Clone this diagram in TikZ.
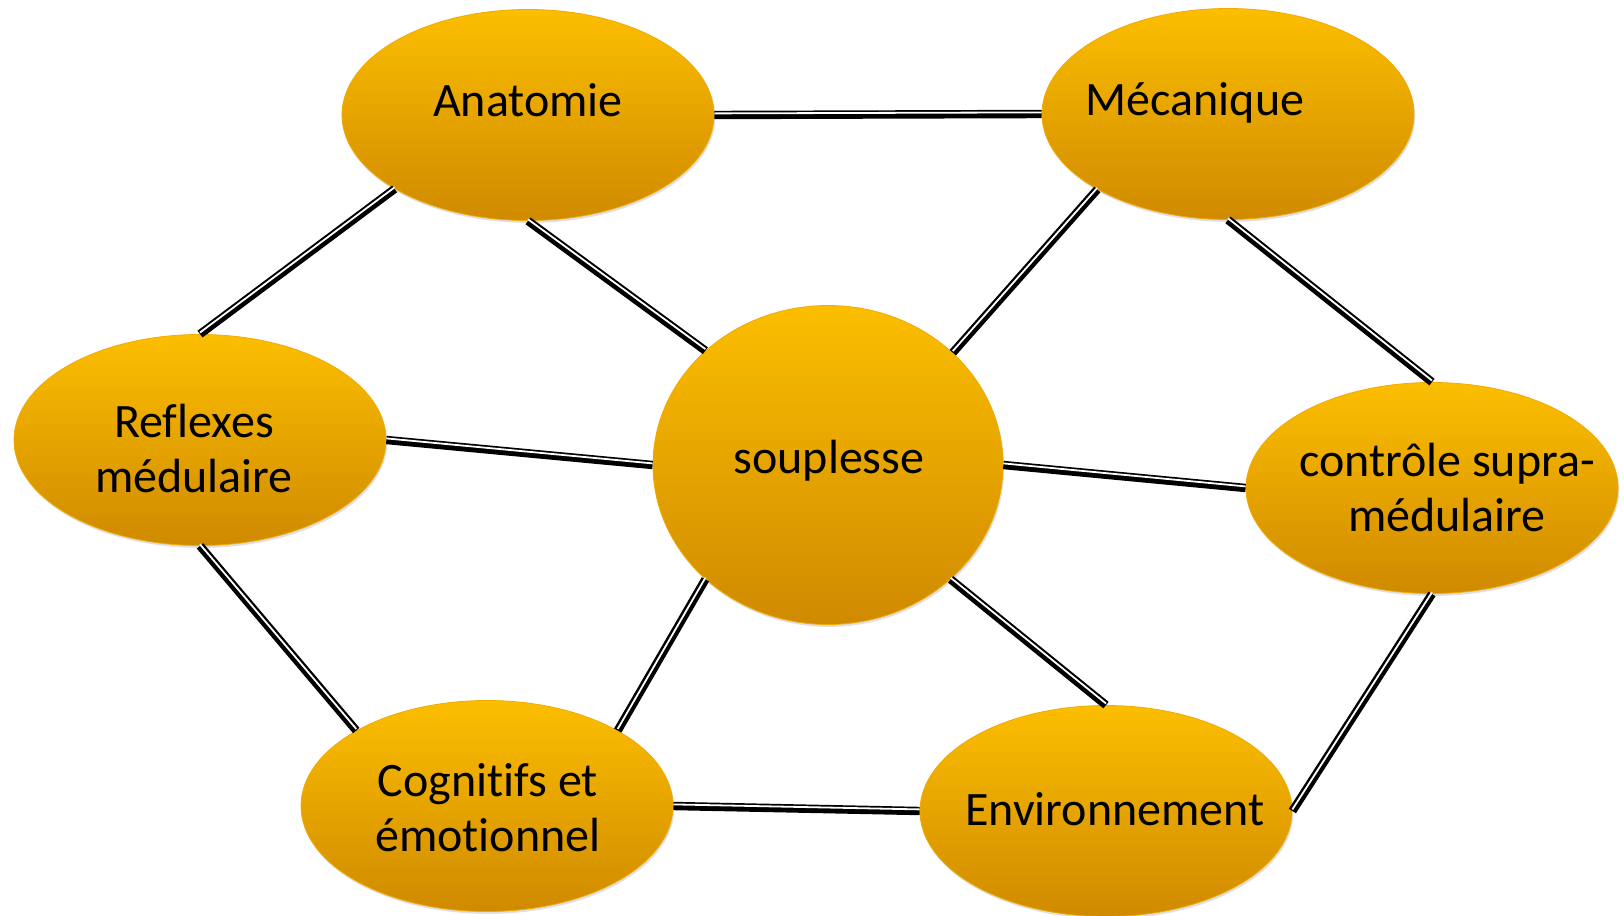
\documentclass[tikz,border=0pt]{standalone}
\usepackage{fontspec}
\setmainfont[Ligatures=NoCommon]{Carlito}
\usetikzlibrary{calc,shapes.geometric,shadows}

\definecolor{topor}{RGB}{252,190,0}
\definecolor{botor}{RGB}{208,138,0}
\definecolor{rimor}{RGB}{240,170,0}

\begin{document}
\begin{tikzpicture}[x=0.5pt, y=-0.5pt,
                    field/.style ={ellipse, draw=rimor, line width=0.4pt, top color=topor, bottom color=botor,
                                   minimum width=186pt, minimum height=105.5pt, inner sep=0,
                                   drop shadow={opacity=0.25, shadow xshift=0.6pt, shadow yshift=-1.2pt}},
                    core/.style  ={field, minimum width=175pt, minimum height=159.5pt},
                    tag/.style   ={text=black, align=center, font=\fontsize{24}{27.5}\selectfont},
                    link/.style  ={draw=black, line width=4.2pt,
                                   postaction={draw=white, line width=0.9pt, transform canvas={yshift=0.8pt}}}]

      \useasboundingbox (0,0) rectangle (1624,916);

      \node[field] at (528, 115)  (ana) {};
      \node[field] at (1228, 114) (mec) {};
      \node[field] at (200, 440)  (ref) {};
      \node[core]  at (828, 465)  (sou) {};
      \node[field] at (1432, 488) (con) {};
      \node[field] at (487, 806)  (cog) {};
      \node[field] at (1106, 811) (env) {};

      \node[tag] at ($(ana)+(0,-15)$)  (anat) {Anatomie};
      \node[tag] at ($(mec)+(-33,-11)$) (mect) {Mécanique};
      \node[tag] at ($(ref)+(-6,9)$)   (reft) {Reflexes\\médulaire};
      \node[tag] at ($(sou)+(1,-4)$)   (sout) {souplesse};
      \node[tag] at ($(con)+(15,0)$)   (cont) {contrôle supra-\\médulaire};
      \node[tag] at ($(cog)+(1,2)$)    (cogt) {Cognitifs et\\émotionnel};
      \node[tag] at ($(env)+(9,-2)$)   (envt) {Environnement};

      \draw[link] (ana.east)  -- (mec.west);
      \draw[link] (ref.north) -- (ana.209);
      \draw[link] (ana.south) -- (sou.137);
      \draw[link] (mec.210)   -- (sou.42);
      \draw[link] (mec.south) -- (con.north);
      \draw[link] (ref.east)  -- (sou.west);
      \draw[link] (sou.east)  -- (con.west);
      \draw[link] (ref.south) -- (cog.150);
      \draw[link] (sou.223)   -- (cog.30);
      \draw[link] (sou.317)   -- (env.north);
      \draw[link] (con.south) -- (env.east);
      \draw[link] (cog.east)  -- (env.west);
    \end{tikzpicture}
\end{document}
